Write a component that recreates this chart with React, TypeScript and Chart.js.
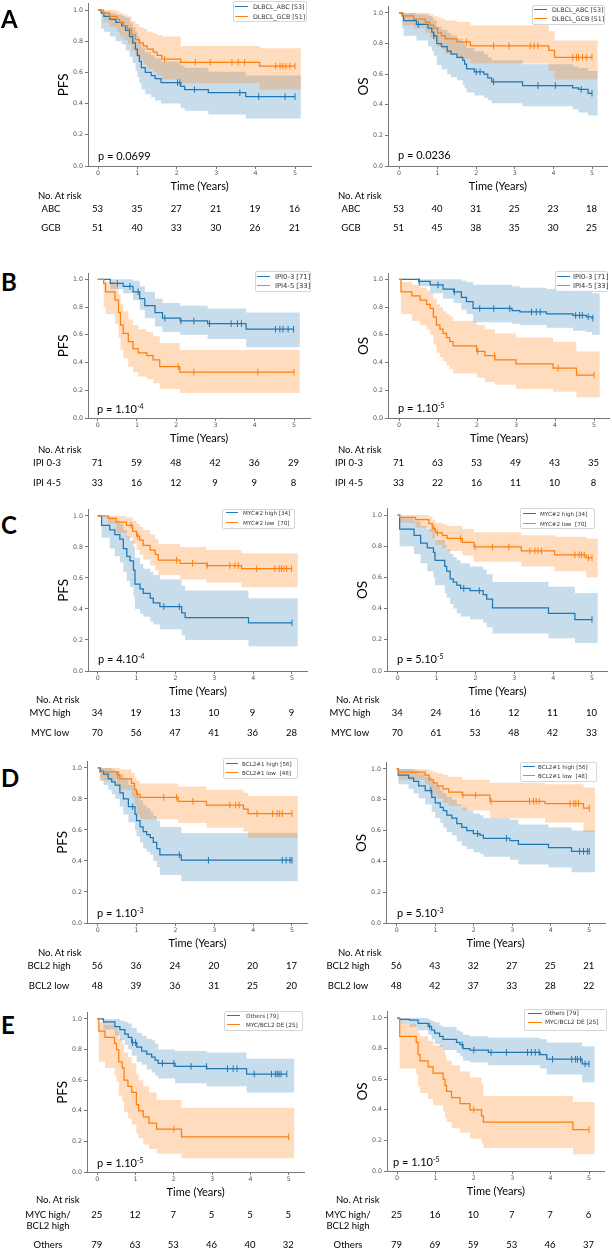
import React, { useEffect, useRef } from "react";
import { Chart, registerables } from "chart.js";

Chart.register(...registerables);

// ---------------- axis constants ----------------
const TIME_TICKS = [0, 1, 2, 3, 4, 5];
const SURV_TICKS = [0, 0.2, 0.4, 0.6, 0.8, 1.0];
const BAND_END = 5.15;
const X_MAX = 5.41;
const Y_MAX = 1.04;

// ---------------- A: cell of origin ----------------
const aPfsAbcT = [0, 0.08, 0.15, 0.3, 0.45, 0.6, 0.7, 0.8, 0.88, 0.95, 1.0, 1.05, 1.1, 1.2, 1.35, 1.45, 1.6, 2.1, 2.2, 2.8, 3.75];
const aPfsAbcS = [1, 0.98, 0.96, 0.94, 0.92, 0.9, 0.87, 0.83, 0.79, 0.75, 0.71, 0.67, 0.63, 0.6, 0.58, 0.56, 0.535, 0.51, 0.49, 0.47, 0.445];
const aPfsAbcLo = [1, 0.88, 0.86, 0.83, 0.8, 0.78, 0.74, 0.7, 0.66, 0.61, 0.57, 0.53, 0.49, 0.46, 0.44, 0.42, 0.4, 0.37, 0.355, 0.33, 0.305];
const aPfsAbcHi = [1, 1, 0.99, 0.98, 0.97, 0.96, 0.95, 0.92, 0.89, 0.86, 0.83, 0.8, 0.76, 0.73, 0.71, 0.69, 0.67, 0.645, 0.63, 0.605, 0.58];
const aPfsAbcCens = [2.02, 2.08, 2.45, 3.6, 4.08, 4.75, 5.0];

const aPfsGcbT = [0, 0.14, 0.3, 0.48, 0.55, 0.65, 0.75, 0.85, 0.95, 1.05, 1.15, 1.25, 1.4, 1.5, 1.62, 2.1, 4.1];
const aPfsGcbS = [1, 0.98, 0.96, 0.94, 0.92, 0.9, 0.88, 0.84, 0.81, 0.79, 0.77, 0.75, 0.73, 0.71, 0.685, 0.665, 0.64];
const aPfsGcbLo = [1, 0.92, 0.89, 0.86, 0.83, 0.81, 0.78, 0.74, 0.7, 0.68, 0.65, 0.62, 0.6, 0.58, 0.555, 0.53, 0.49];
const aPfsGcbHi = [1, 1, 1, 0.99, 0.98, 0.97, 0.96, 0.93, 0.91, 0.89, 0.88, 0.86, 0.85, 0.84, 0.83, 0.77, 0.755];
const aPfsGcbCens = [1.69, 2.47, 2.85, 3.4, 3.56, 3.72, 4.51, 4.62, 4.69, 4.77, 4.87, 5.0];

const aOsAbcT = [0, 0.08, 0.12, 0.45, 0.75, 0.85, 0.9, 0.98, 1.1, 1.25, 1.35, 1.5, 1.65, 1.7, 1.75, 1.95, 2.2, 2.3, 2.4, 3.2, 4.5, 4.65, 4.9];
const aOsAbcS = [1, 0.98, 0.95, 0.925, 0.9, 0.875, 0.85, 0.8, 0.78, 0.75, 0.73, 0.71, 0.69, 0.665, 0.635, 0.615, 0.6, 0.575, 0.55, 0.525, 0.51, 0.5, 0.475];
const aOsAbcLo = [1, 0.9, 0.85, 0.82, 0.78, 0.75, 0.72, 0.66, 0.63, 0.6, 0.58, 0.56, 0.53, 0.51, 0.48, 0.46, 0.445, 0.43, 0.41, 0.39, 0.37, 0.35, 0.33];
const aOsAbcHi = [1, 1, 1, 0.99, 0.98, 0.97, 0.95, 0.91, 0.89, 0.87, 0.85, 0.83, 0.81, 0.79, 0.77, 0.75, 0.73, 0.71, 0.69, 0.665, 0.65, 0.64, 0.62];
const aOsAbcCens = [0.5, 0.9, 2.0, 2.1, 2.45, 3.6, 4.05, 4.72, 5.0];

const aOsGcbT = [0, 0.1, 0.38, 0.68, 0.8, 0.9, 1.0, 1.1, 1.2, 1.5, 1.85, 3.88, 4.03];
const aOsGcbS = [1, 0.98, 0.96, 0.94, 0.92, 0.9, 0.87, 0.85, 0.83, 0.81, 0.785, 0.755, 0.71];
const aOsGcbLo = [1, 0.92, 0.9, 0.87, 0.84, 0.82, 0.78, 0.76, 0.73, 0.7, 0.67, 0.62, 0.565];
const aOsGcbHi = [1, 1, 1, 1, 0.99, 0.98, 0.97, 0.96, 0.95, 0.94, 0.92, 0.88, 0.82];
const aOsGcbCens = [1.75, 2.45, 2.85, 3.4, 3.5, 3.6, 4.5, 4.6, 4.65, 4.75, 4.85, 5.0];

// ---------------- B: IPI ----------------
const bPfsLowT = [0, 0.32, 0.65, 0.9, 1.07, 1.2, 1.46, 1.65, 2.1, 2.8, 3.78];
const bPfsLowS = [1, 0.97, 0.95, 0.91, 0.86, 0.81, 0.76, 0.72, 0.7, 0.68, 0.64];
const bPfsLowLo = [1, 0.93, 0.9, 0.85, 0.78, 0.72, 0.66, 0.62, 0.6, 0.57, 0.51];
const bPfsLowHi = [1, 1, 1, 0.99, 0.95, 0.91, 0.86, 0.83, 0.81, 0.79, 0.76];
const bPfsLowCens = [0.5, 0.82, 1.03, 1.71, 2.12, 2.45, 2.85, 3.4, 3.56, 3.66, 4.53, 4.64, 4.72, 4.85, 4.99];

const bPfsHighT = [0, 0.15, 0.2, 0.44, 0.53, 0.58, 0.65, 0.78, 0.9, 1.03, 1.25, 1.41, 1.58, 2.09];
const bPfsHighS = [1, 0.97, 0.91, 0.85, 0.76, 0.67, 0.61, 0.55, 0.5, 0.47, 0.45, 0.42, 0.37, 0.33];
const bPfsHighLo = [1, 0.8, 0.75, 0.68, 0.58, 0.49, 0.43, 0.37, 0.33, 0.3, 0.28, 0.25, 0.21, 0.18];
const bPfsHighHi = [1, 1, 0.98, 0.95, 0.89, 0.82, 0.77, 0.71, 0.67, 0.64, 0.62, 0.59, 0.54, 0.49];
const bPfsHighCens = [2.05, 2.45, 4.08, 5.0];

const bOsLowT = [0, 0.5, 0.8, 1.13, 1.4, 1.6, 1.73, 1.9, 2.9, 3.1, 3.78, 4.46, 4.8, 4.95];
const bOsLowS = [1, 0.985, 0.96, 0.93, 0.91, 0.87, 0.84, 0.79, 0.775, 0.765, 0.75, 0.74, 0.73, 0.72];
const bOsLowLo = [1, 0.95, 0.9, 0.86, 0.83, 0.78, 0.75, 0.69, 0.68, 0.67, 0.65, 0.63, 0.62, 0.6];
const bOsLowHi = [1, 1, 1, 1, 1, 0.99, 0.98, 0.96, 0.95, 0.94, 0.93, 0.92, 0.91, 0.9];
const bOsLowCens = [0.52, 1.0, 1.42, 2.07, 2.43, 2.84, 3.4, 3.52, 3.62, 4.53, 4.63, 4.7, 4.85, 4.97];

const bOsHighT = [0, 0.05, 0.33, 0.54, 0.71, 0.8, 0.88, 0.96, 1.05, 1.13, 1.22, 1.3, 1.39, 1.99, 2.2, 2.46, 3.0, 3.95, 4.55];
const bOsHighS = [1, 0.91, 0.88, 0.85, 0.82, 0.79, 0.73, 0.67, 0.64, 0.61, 0.58, 0.55, 0.52, 0.48, 0.45, 0.42, 0.39, 0.36, 0.31];
const bOsHighLo = [1, 0.75, 0.7, 0.67, 0.64, 0.6, 0.53, 0.47, 0.44, 0.41, 0.38, 0.35, 0.32, 0.29, 0.26, 0.24, 0.21, 0.19, 0.15];
const bOsHighHi = [1, 0.98, 0.96, 0.94, 0.92, 0.9, 0.86, 0.82, 0.8, 0.77, 0.75, 0.73, 0.7, 0.67, 0.64, 0.61, 0.58, 0.55, 0.48];
const bOsHighCens = [2.02, 2.45, 4.08, 5.0];

// ---------------- C: MYC ----------------
const cPfsHighT = [0, 0.1, 0.31, 0.44, 0.57, 0.66, 0.75, 0.83, 0.92, 0.96, 1.09, 1.17, 1.35, 1.43, 1.6, 2.16, 2.25, 3.88];
const cPfsHighS = [1, 0.94, 0.91, 0.88, 0.85, 0.79, 0.74, 0.71, 0.65, 0.56, 0.53, 0.5, 0.47, 0.44, 0.415, 0.375, 0.345, 0.31];
const cPfsHighLo = [1, 0.86, 0.79, 0.74, 0.7, 0.64, 0.58, 0.54, 0.48, 0.4, 0.37, 0.35, 0.32, 0.3, 0.27, 0.23, 0.2, 0.16];
const cPfsHighHi = [1, 1, 0.99, 0.97, 0.95, 0.91, 0.87, 0.84, 0.8, 0.73, 0.69, 0.66, 0.64, 0.62, 0.59, 0.55, 0.52, 0.47];
const cPfsHighCens = [1.7, 2.1, 5.0];

const cPfsLowT = [0, 0.27, 0.48, 0.74, 0.9, 1.0, 1.08, 1.17, 1.35, 1.48, 1.56, 2.12, 2.8, 3.7];
const cPfsLowS = [1, 0.985, 0.96, 0.94, 0.9, 0.87, 0.845, 0.81, 0.78, 0.75, 0.715, 0.695, 0.68, 0.66];
const cPfsLowLo = [1, 0.95, 0.89, 0.86, 0.82, 0.78, 0.75, 0.72, 0.68, 0.65, 0.62, 0.59, 0.57, 0.54];
const cPfsLowHi = [1, 1, 1, 0.99, 0.97, 0.95, 0.93, 0.91, 0.88, 0.85, 0.82, 0.8, 0.78, 0.76];
const cPfsLowCens = [0.86, 1.03, 2.03, 2.44, 2.82, 3.4, 3.53, 3.62, 4.09, 4.56, 4.67, 4.73, 4.79, 4.86, 4.99];

const cOsHighT = [0, 0.05, 0.42, 0.59, 0.76, 0.92, 0.96, 1.21, 1.26, 1.35, 1.43, 1.52, 1.62, 1.86, 2.2, 2.29, 2.44, 3.88, 4.56];
const cOsHighS = [1, 0.91, 0.87, 0.82, 0.79, 0.76, 0.71, 0.67, 0.64, 0.59, 0.57, 0.55, 0.53, 0.515, 0.49, 0.46, 0.405, 0.37, 0.33];
const cOsHighLo = [1, 0.8, 0.75, 0.69, 0.64, 0.6, 0.55, 0.5, 0.47, 0.43, 0.4, 0.37, 0.35, 0.33, 0.31, 0.28, 0.24, 0.21, 0.18];
const cOsHighHi = [1, 0.98, 0.96, 0.93, 0.91, 0.88, 0.84, 0.81, 0.78, 0.75, 0.73, 0.71, 0.69, 0.67, 0.65, 0.62, 0.57, 0.54, 0.5];
const cOsHighCens = [1.7, 2.1, 5.0];

const cOsLowT = [0, 0.05, 0.46, 0.8, 0.89, 0.97, 1.15, 1.27, 1.66, 1.96, 3.18, 4.04, 4.85];
const cOsLowS = [1, 0.985, 0.97, 0.945, 0.915, 0.885, 0.87, 0.85, 0.825, 0.795, 0.77, 0.745, 0.725];
const cOsLowLo = [1, 0.95, 0.92, 0.89, 0.85, 0.81, 0.79, 0.77, 0.74, 0.7, 0.67, 0.64, 0.6];
const cOsLowHi = [1, 1, 1, 0.99, 0.97, 0.95, 0.94, 0.93, 0.91, 0.89, 0.87, 0.86, 0.85];
const cOsLowCens = [0.93, 1.02, 1.62, 1.99, 2.44, 2.86, 3.4, 3.53, 3.61, 3.7, 4.56, 4.67, 4.73, 4.8, 4.91, 5.0];

// ---------------- D: BCL2 ----------------
const dPfsHighT = [0, 0.07, 0.15, 0.27, 0.36, 0.45, 0.57, 0.66, 0.79, 0.96, 1.0, 1.09, 1.17, 1.26, 1.35, 1.43, 1.52, 1.6, 2.15];
const dPfsHighS = [1, 0.98, 0.96, 0.93, 0.91, 0.89, 0.84, 0.8, 0.75, 0.7, 0.66, 0.62, 0.59, 0.57, 0.55, 0.52, 0.48, 0.44, 0.405];
const dPfsHighLo = [1, 0.92, 0.89, 0.86, 0.83, 0.8, 0.75, 0.7, 0.65, 0.6, 0.56, 0.52, 0.48, 0.46, 0.44, 0.4, 0.36, 0.31, 0.27];
const dPfsHighHi = [1, 1, 1, 1, 0.99, 0.98, 0.96, 0.93, 0.89, 0.86, 0.82, 0.79, 0.76, 0.74, 0.72, 0.69, 0.66, 0.62, 0.58];
const dPfsHighCens = [0.9, 2.1, 2.85, 4.75, 4.85, 4.95, 5.0];

const dPfsLowT = [0, 0.05, 0.5, 0.57, 0.87, 0.95, 1.0, 1.09, 2.07, 2.8, 3.75, 3.87];
const dPfsLowS = [1, 0.975, 0.955, 0.93, 0.9, 0.86, 0.83, 0.81, 0.785, 0.76, 0.735, 0.705];
const dPfsLowLo = [1, 0.92, 0.89, 0.86, 0.81, 0.76, 0.7, 0.67, 0.645, 0.615, 0.59, 0.55];
const dPfsLowHi = [1, 1, 1, 0.99, 0.97, 0.94, 0.92, 0.9, 0.88, 0.86, 0.84, 0.82];
const dPfsLowCens = [0.52, 1.02, 1.7, 2.03, 2.45, 3.4, 3.55, 3.64, 4.1, 4.5, 4.62, 4.68, 4.75, 5.0];

const dOsHighT = [0, 0.04, 0.31, 0.44, 0.57, 0.74, 0.91, 1.0, 1.13, 1.21, 1.3, 1.43, 1.56, 1.69, 1.82, 1.99, 2.16, 2.25, 2.94, 3.16, 3.94, 4.54];
const dOsHighS = [1, 0.96, 0.94, 0.92, 0.89, 0.86, 0.815, 0.78, 0.75, 0.73, 0.7, 0.68, 0.645, 0.62, 0.6, 0.58, 0.57, 0.55, 0.535, 0.51, 0.49, 0.465];
const dOsHighLo = [1, 0.9, 0.87, 0.84, 0.81, 0.77, 0.72, 0.68, 0.65, 0.62, 0.59, 0.57, 0.53, 0.5, 0.48, 0.46, 0.45, 0.43, 0.41, 0.38, 0.36, 0.33];
const dOsHighHi = [1, 1, 1, 0.99, 0.97, 0.95, 0.92, 0.89, 0.86, 0.84, 0.82, 0.8, 0.77, 0.75, 0.73, 0.71, 0.7, 0.68, 0.67, 0.64, 0.62, 0.6];
const dOsHighCens = [0.89, 2.1, 2.85, 4.75, 4.85, 4.95, 5.0];

const dOsLowT = [0, 0.05, 0.74, 0.84, 0.95, 1.05, 1.2, 1.35, 1.7, 2.42, 3.85, 4.85];
const dOsLowS = [1, 0.98, 0.96, 0.93, 0.91, 0.89, 0.87, 0.85, 0.83, 0.79, 0.775, 0.745];
const dOsLowLo = [1, 0.93, 0.9, 0.86, 0.83, 0.81, 0.78, 0.76, 0.73, 0.68, 0.65, 0.59];
const dOsLowHi = [1, 1, 1, 0.99, 0.98, 0.97, 0.96, 0.95, 0.93, 0.91, 0.9, 0.88];
const dOsLowCens = [1.72, 2.05, 2.45, 3.45, 3.55, 3.62, 3.7, 4.5, 4.6, 4.65, 4.72, 5.0];

// ---------------- E: double expressor ----------------
const ePfsOthT = [0, 0.16, 0.46, 0.59, 0.72, 0.81, 0.9, 1.03, 1.16, 1.29, 1.42, 1.51, 1.59, 2.03, 2.86, 3.9];
const ePfsOthS = [1, 0.98, 0.95, 0.93, 0.9, 0.88, 0.845, 0.815, 0.79, 0.77, 0.75, 0.73, 0.71, 0.69, 0.675, 0.64];
const ePfsOthLo = [1, 0.93, 0.89, 0.86, 0.83, 0.8, 0.76, 0.72, 0.7, 0.67, 0.65, 0.63, 0.61, 0.58, 0.56, 0.52];
const ePfsOthHi = [1, 1, 1, 0.99, 0.98, 0.97, 0.94, 0.91, 0.89, 0.87, 0.86, 0.84, 0.8, 0.79, 0.78, 0.74];
const ePfsOthCens = [0.92, 1.0, 1.7, 2.0, 2.45, 2.85, 3.4, 3.55, 3.65, 4.1, 4.55, 4.65, 4.7, 4.75, 4.8, 4.95];

const ePfsDeT = [0, 0.04, 0.2, 0.45, 0.5, 0.56, 0.65, 0.7, 0.8, 0.9, 1.02, 1.08, 1.2, 1.35, 1.55, 2.2];
const ePfsDeS = [1, 0.92, 0.88, 0.84, 0.8, 0.72, 0.68, 0.6, 0.56, 0.52, 0.44, 0.4, 0.36, 0.32, 0.28, 0.23];
const ePfsDeLo = [1, 0.72, 0.68, 0.63, 0.59, 0.5, 0.46, 0.39, 0.35, 0.31, 0.25, 0.22, 0.18, 0.15, 0.12, 0.09];
const ePfsDeHi = [1, 0.98, 0.96, 0.94, 0.92, 0.87, 0.84, 0.78, 0.75, 0.71, 0.64, 0.6, 0.56, 0.52, 0.47, 0.42];
const ePfsDeCens = [2.0, 5.0];

const eOsOthT = [0, 0.06, 0.33, 0.55, 0.81, 0.9, 0.98, 1.11, 1.2, 1.55, 1.64, 1.72, 1.9, 2.38, 3.73, 3.9, 4.82];
const eOsOthS = [1, 0.99, 0.985, 0.965, 0.945, 0.92, 0.9, 0.88, 0.86, 0.84, 0.825, 0.8, 0.79, 0.775, 0.76, 0.73, 0.7];
const eOsOthLo = [1, 0.96, 0.94, 0.92, 0.89, 0.86, 0.83, 0.81, 0.79, 0.77, 0.75, 0.72, 0.71, 0.69, 0.67, 0.63, 0.58];
const eOsOthHi = [1, 1, 1, 1, 0.99, 0.98, 0.97, 0.95, 0.94, 0.92, 0.91, 0.89, 0.88, 0.87, 0.86, 0.84, 0.815];
const eOsOthCens = [0.85, 1.7, 2.0, 2.45, 2.85, 3.4, 3.5, 3.6, 3.7, 4.05, 4.55, 4.65, 4.7, 4.78, 4.9, 5.0];

const eOsDeT = [0, 0.07, 0.5, 0.55, 0.6, 0.81, 0.94, 1.2, 1.25, 1.29, 1.42, 1.64, 1.9, 2.2, 2.25, 4.58];
const eOsDeS = [1, 0.88, 0.84, 0.76, 0.72, 0.68, 0.64, 0.6, 0.56, 0.52, 0.48, 0.44, 0.4, 0.36, 0.32, 0.27];
const eOsDeLo = [1, 0.67, 0.63, 0.55, 0.51, 0.47, 0.43, 0.39, 0.35, 0.32, 0.28, 0.25, 0.21, 0.18, 0.15, 0.11];
const eOsDeHi = [1, 0.96, 0.94, 0.9, 0.88, 0.85, 0.82, 0.79, 0.76, 0.72, 0.69, 0.65, 0.61, 0.57, 0.49, 0.45];
const eOsDeCens = [2.0, 5.0];

// ---------------- number at risk ----------------
const riskAPfsAbc = [53, 35, 27, 21, 19, 16];
const riskAPfsGcb = [51, 40, 33, 30, 26, 21];
const riskAOsAbc = [53, 40, 31, 25, 23, 18];
const riskAOsGcb = [51, 45, 38, 35, 30, 25];
const riskBPfsLow = [71, 59, 48, 42, 36, 29];
const riskBPfsHigh = [33, 16, 12, 9, 9, 8];
const riskBOsLow = [71, 63, 53, 49, 43, 35];
const riskBOsHigh = [33, 22, 16, 11, 10, 8];
const riskCPfsHigh = [34, 19, 13, 10, 9, 9];
const riskCPfsLow = [70, 56, 47, 41, 36, 28];
const riskCOsHigh = [34, 24, 16, 12, 11, 10];
const riskCOsLow = [70, 61, 53, 48, 42, 33];
const riskDPfsHigh = [56, 36, 24, 20, 20, 17];
const riskDPfsLow = [48, 39, 36, 31, 25, 20];
const riskDOsHigh = [56, 43, 32, 27, 25, 21];
const riskDOsLow = [48, 42, 37, 33, 28, 22];
const riskEPfsDe = [25, 12, 7, 5, 5, 5];
const riskEPfsOth = [79, 63, 53, 46, 40, 32];
const riskEOsDe = [25, 16, 10, 7, 7, 6];
const riskEOsOth = [79, 69, 59, 53, 46, 37];

// ---------------- labels ----------------
const legendA = ["DLBCL_ABC [53]", "DLBCL_GCB [51]"];
const legendB = ["IPI0-3 [71]", "IPI4-5 [33]"];
const legendC = ["MYC#2 high [34]", "MYC#2 low  [70]"];
const legendD = ["BCL2#1 high [56]", "BCL2#1 low  [48]"];
const legendE = ["Others [79]", "MYC/BCL2 DE [25]"];
const rowsA = ["ABC", "GCB"];
const rowsB = ["IPI 0-3", "IPI 4-5"];
const rowsC = ["MYC high", "MYC low"];
const rowsD = ["BCL2 high", "BCL2 low"];
const rowsE = ["MYC high/\nBCL2 high", "Others"];
const pValues = [
  ["p = 0.0699", ""], ["p = 0.0236", ""],
  ["p = 1.10", "-4"], ["p = 1.10", "-5"],
  ["p = 4.10", "-4"], ["p = 5.10", "-5"],
  ["p = 1.10", "-3"], ["p = 5.10", "-3"],
  ["p = 1.10", "-5"], ["p = 1.10", "-5"],
];
const panelLetters = ["A", "B", "C", "D", "E"];

// ---------------- layout (page pixels) ----------------
// [yAxisX, x(t=0), x(t=5), y(S=1), y(S=0)]
const GEO = [
  [88, 98, 295, 7.3, 166], [388, 399, 592, 10, 166],
  [88, 97.7, 294, 276, 418.3], [388, 399, 594, 276.5, 418.3],
  [88, 97.7, 292, 512.5, 671], [387, 397.7, 592, 512.3, 671],
  [87, 97.7, 292, 765, 923.3], [386, 396.7, 589.3, 765.8, 923.3],
  [87, 97.3, 288.7, 1015.7, 1172.3], [387, 397, 589, 1014.3, 1171],
];
// [x, y, w, h, row1Y, row2Y, swatchL, swatchR, textX, fontSize]
const LEG_GEO = [
  [233, 1, 74, 21, 7, 17, 235, 248, 253, 6.3], [532, 5, 73, 20, 10, 19, 534, 547, 552, 6.3],
  [255, 271, 56, 21, 277, 286, 257, 270, 275, 6.8], [555, 271, 53, 21, 277, 286, 557, 570, 573, 6.8],
  [222, 509, 73, 20, 513, 523, 226, 238, 243, 5.6], [520, 508, 75, 21, 514, 524, 523, 536, 540, 5.6],
  [223, 758, 75, 21, 764, 773, 226, 238, 242, 5.6], [520, 762, 77, 20, 767, 776, 523, 535, 538, 5.6],
  [224, 1011, 79, 20, 1016, 1025, 227, 240, 246, 5.7], [524, 1009, 83, 22, 1014, 1023, 528, 542, 545, 5.9],
];
// [x, centerY]
const P_GEO = [
  [98, 156], [398, 155], [97, 409], [398, 408], [98, 659],
  [397, 659], [97, 913], [397, 913], [97, 1163], [393, 1162],
];
// [headX, headY, labelCenterX, row1Y, row2Y]
const RISK_GEO = [
  [38, 196, 51, 209, 228], [338, 196, 351, 209, 228],
  [38, 450, 47, 463, 483], [338, 450, 349, 463, 483],
  [36, 700, 50, 713, 733], [336, 700, 350, 713, 733],
  [38, 953, 49, 966, 986], [338, 953, 348, 966, 986],
  [36, 1200, 48, 1215, 1245], [336, 1200, 348, 1215, 1245],
];
const LETTER_Y = [19.5, 282, 525, 778, 1025.5];

const BLUE = "#1f77b4";
const ORANGE = "#ff7f0e";
const BLUE_BAND = "rgba(31,119,180,0.25)";
const ORANGE_BAND = "rgba(255,127,14,0.27)";
const TEXT_FONT = "Lato, 'Open Sans', sans-serif";
const SMALL_FONT = "'DejaVu Sans', sans-serif";

type Curve = { t: number[]; s: number[]; lo: number[]; hi: number[]; cens: number[] };
const mk = (t: number[], s: number[], lo: number[], hi: number[], cens: number[]): Curve => ({ t, s, lo, hi, cens });

const PANELS = [
  { yTitle: "PFS", blue: mk(aPfsAbcT, aPfsAbcS, aPfsAbcLo, aPfsAbcHi, aPfsAbcCens), orange: mk(aPfsGcbT, aPfsGcbS, aPfsGcbLo, aPfsGcbHi, aPfsGcbCens), legend: legendA, rows: rowsA, risk: [riskAPfsAbc, riskAPfsGcb] },
  { yTitle: "OS", blue: mk(aOsAbcT, aOsAbcS, aOsAbcLo, aOsAbcHi, aOsAbcCens), orange: mk(aOsGcbT, aOsGcbS, aOsGcbLo, aOsGcbHi, aOsGcbCens), legend: legendA, rows: rowsA, risk: [riskAOsAbc, riskAOsGcb] },
  { yTitle: "PFS", blue: mk(bPfsLowT, bPfsLowS, bPfsLowLo, bPfsLowHi, bPfsLowCens), orange: mk(bPfsHighT, bPfsHighS, bPfsHighLo, bPfsHighHi, bPfsHighCens), legend: legendB, rows: rowsB, risk: [riskBPfsLow, riskBPfsHigh] },
  { yTitle: "OS", blue: mk(bOsLowT, bOsLowS, bOsLowLo, bOsLowHi, bOsLowCens), orange: mk(bOsHighT, bOsHighS, bOsHighLo, bOsHighHi, bOsHighCens), legend: legendB, rows: rowsB, risk: [riskBOsLow, riskBOsHigh] },
  { yTitle: "PFS", blue: mk(cPfsHighT, cPfsHighS, cPfsHighLo, cPfsHighHi, cPfsHighCens), orange: mk(cPfsLowT, cPfsLowS, cPfsLowLo, cPfsLowHi, cPfsLowCens), legend: legendC, rows: rowsC, risk: [riskCPfsHigh, riskCPfsLow] },
  { yTitle: "OS", blue: mk(cOsHighT, cOsHighS, cOsHighLo, cOsHighHi, cOsHighCens), orange: mk(cOsLowT, cOsLowS, cOsLowLo, cOsLowHi, cOsLowCens), legend: legendC, rows: rowsC, risk: [riskCOsHigh, riskCOsLow] },
  { yTitle: "PFS", blue: mk(dPfsHighT, dPfsHighS, dPfsHighLo, dPfsHighHi, dPfsHighCens), orange: mk(dPfsLowT, dPfsLowS, dPfsLowLo, dPfsLowHi, dPfsLowCens), legend: legendD, rows: rowsD, risk: [riskDPfsHigh, riskDPfsLow] },
  { yTitle: "OS", blue: mk(dOsHighT, dOsHighS, dOsHighLo, dOsHighHi, dOsHighCens), orange: mk(dOsLowT, dOsLowS, dOsLowLo, dOsLowHi, dOsLowCens), legend: legendD, rows: rowsD, risk: [riskDOsHigh, riskDOsLow] },
  { yTitle: "PFS", blue: mk(ePfsOthT, ePfsOthS, ePfsOthLo, ePfsOthHi, ePfsOthCens), orange: mk(ePfsDeT, ePfsDeS, ePfsDeLo, ePfsDeHi, ePfsDeCens), legend: legendE, rows: rowsE, risk: [riskEPfsDe, riskEPfsOth] },
  { yTitle: "OS", blue: mk(eOsOthT, eOsOthS, eOsOthLo, eOsOthHi, eOsOthCens), orange: mk(eOsDeT, eOsDeS, eOsDeLo, eOsDeHi, eOsDeCens), legend: legendE, rows: rowsE, risk: [riskEOsDe, riskEOsOth] },
];

const Y_AXIS_W = 32;
const X_AXIS_H = 27;

function geom(g: number[]) {
  const [axisXr, x0, x5, y1, y0r] = g;
  const axisX = Math.round(axisXr);
  const y0 = Math.round(y0r);
  const ppy = (x5 - x0) / 5;
  const ppu = y0r - y1;
  const xmin = -(x0 - axisX) / ppy;
  const chartRight = x0 + X_MAX * ppy;
  const chartTop = y0 - Y_MAX * ppu;
  const cl = axisX - Y_AXIS_W;
  const ct = Math.floor(chartTop) - 2;
  const cw = Math.ceil(chartRight) + 3 - cl;
  const ch = y0 + X_AXIS_H - ct;
  return { cl, ct, cw, ch, padTop: chartTop - ct, padRight: cl + cw - chartRight, xmin, x0, ppy };
}

function stepValue(x: number, ts: number[], ss: number[]) {
  let v = ss[0];
  for (let i = 0; i < ts.length; i++) if (ts[i] <= x) v = ss[i];
  return v;
}

function kmSets(c: Curve, color: string, band: string) {
  const n = c.t.length - 1;
  const lastCens = c.cens.length ? c.cens[c.cens.length - 1] : c.t[n];
  const curveEnd = Math.max(lastCens, c.t[n]);
  const pts = (vals: number[], end: number) =>
    c.t.map((t, i) => ({ x: t, y: vals[i] })).concat([{ x: end, y: vals[n] }]);
  return {
    cens: {
      type: "scatter", data: c.cens.map((t) => ({ x: t, y: stepValue(t, c.t, c.s) })),
      pointStyle: "line", pointRotation: 90, pointRadius: 3.3, pointBorderWidth: 1,
      pointBorderColor: color, borderColor: color, backgroundColor: color, showLine: false,
    },
    line: {
      type: "line", data: pts(c.s, curveEnd), stepped: true, borderColor: color,
      borderWidth: 1.25, pointRadius: 0, fill: false,
    },
    hi: {
      type: "line", data: pts(c.hi, BAND_END), stepped: true, borderWidth: 0,
      borderColor: "rgba(0,0,0,0)", pointRadius: 0, fill: "+1", backgroundColor: band,
    },
    lo: {
      type: "line", data: pts(c.lo, BAND_END), stepped: true, borderWidth: 0,
      borderColor: "rgba(0,0,0,0)", pointRadius: 0, fill: false,
    },
  };
}

function Txt(props: { x: number; cy: number; fs: number; text: string; align?: "left" | "center"; family?: string; color?: string; weight?: number | string; children?: any }) {
  const { x, cy, fs, text, align = "left", family = TEXT_FONT, color = "#000", weight = 400 } = props;
  return (
    <div
      style={{
        position: "absolute", left: x, top: cy - fs * 0.6, height: fs * 1.2, lineHeight: `${fs * 1.2}px`,
        fontSize: fs, fontFamily: family, color, fontWeight: weight as any, whiteSpace: "pre",
        transform: align === "center" ? "translateX(-50%)" : undefined,
      }}
    >
      {text}
      {props.children}
    </div>
  );
}

function KMPanel({ idx }: { idx: number }) {
  const p = PANELS[idx];
  const g = geom(GEO[idx]);
  const ref = useRef<HTMLCanvasElement>(null);

  useEffect(() => {
    const b = kmSets(p.blue, BLUE, BLUE_BAND);
    const o = kmSets(p.orange, ORANGE, ORANGE_BAND);
    const tickFont = { family: SMALL_FONT, size: 6.3 };
    const chart = new Chart(ref.current as HTMLCanvasElement, {
      type: "line",
      data: { datasets: [o.cens, b.cens, o.line, b.line, o.hi, o.lo, b.hi, b.lo] as any },
      options: {
        animation: false,
        responsive: false,
        maintainAspectRatio: false,
        devicePixelRatio: 1,
        layout: { autoPadding: false, padding: { top: g.padTop, right: g.padRight, left: 0, bottom: 0 } },
        plugins: { legend: { display: false }, tooltip: { enabled: false } },
        scales: {
          x: {
            type: "linear", min: g.xmin, max: X_MAX,
            afterBuildTicks: (s: any) => { s.ticks = TIME_TICKS.map((v) => ({ value: v })); },
            afterFit: (s: any) => { s.height = X_AXIS_H; },
            ticks: { font: tickFont, color: "#555", padding: 1, maxRotation: 0, autoSkip: false, callback: (v: any) => String(v) },
            grid: { display: true, drawOnChartArea: false, drawTicks: true, tickLength: 3, color: "#777" },
            border: { display: true, color: "#777", width: 1 },
            title: { display: true, text: "Time (Years)", font: { family: "Lato", size: 11 }, color: "#000", padding: 0 },
          },
          y: {
            type: "linear", min: 0, max: Y_MAX,
            afterBuildTicks: (s: any) => { s.ticks = SURV_TICKS.map((v) => ({ value: v })); },
            afterFit: (s: any) => { s.width = Y_AXIS_W; },
            ticks: { font: tickFont, color: "#555", padding: 2, callback: (v: any) => Number(v).toFixed(1) },
            grid: { display: true, drawOnChartArea: false, drawTicks: true, tickLength: 3, color: "#777" },
            border: { display: true, color: "#777", width: 1 },
            title: { display: true, text: p.yTitle, font: { family: "Lato", size: 13.5 }, color: "#000", padding: 0 },
          },
        },
      } as any,
    });
    return () => chart.destroy();
  }, []);

  const L = LEG_GEO[idx];
  const P = P_GEO[idx];
  const R = RISK_GEO[idx];
  const numX = (k: number) => g.x0 + k * g.ppy - 0.5;
  const rowY = [R[3], R[4]];

  return (
    <>
      <canvas
        ref={ref}
        width={g.cw}
        height={g.ch}
        style={{ position: "absolute", left: g.cl, top: g.ct, width: g.cw, height: g.ch }}
      />
      {/* legend */}
      <div
        style={{
          position: "absolute", left: L[0], top: L[1], width: L[2], height: L[3],
          border: "1px solid #d6d6d6", borderRadius: 2, background: "rgba(255,255,255,0.85)", boxSizing: "border-box",
        }}
      />
      {[BLUE, ORANGE].map((c, i) => (
        <div key={"sw" + i} style={{ position: "absolute", left: L[6], top: Math.round(L[4 + i]) - 1, width: L[7] - L[6], height: 0, borderTop: `1.5px solid ${c}` }} />
      ))}
      {p.legend.map((t, i) => (
        <Txt key={"lg" + i} x={L[8]} cy={L[4 + i]} fs={L[9]} text={t} family={SMALL_FONT} color="#333" />
      ))}
      {/* p value */}
      <Txt x={P[0]} cy={P[1]} fs={11} text={pValues[idx][0]}>
        {pValues[idx][1] ? (
          <span style={{ fontSize: 7, position: "relative", top: -4 }}>{pValues[idx][1]}</span>
        ) : null}
      </Txt>
      {/* at-risk table */}
      <Txt x={R[0]} cy={R[1]} fs={9.5} text="No. At risk" />
      {p.rows.map((label, i) =>
        label.split("\n").map((ln, j) => (
          <Txt key={"rl" + i + "-" + j} x={R[2]} cy={rowY[i] + j * 11} fs={9.5} text={ln} align="center" />
        ))
      )}
      {p.risk.map((vals, i) =>
        vals.map((v, k) => (
          <Txt key={"rv" + i + "-" + k} x={numX(k)} cy={rowY[i]} fs={9.5} text={String(v)} align="center" />
        ))
      )}
    </>
  );
}

export default function App() {
  return (
    <div style={{ position: "absolute", left: 0, top: 0, width: 612, height: 1248, background: "#fff", overflow: "hidden" }}>
      {PANELS.map((_, i) => (
        <KMPanel key={i} idx={i} />
      ))}
      {panelLetters.map((l, i) => (
        <Txt key={l} x={1} cy={LETTER_Y[i]} fs={24} text={l} weight={700} />
      ))}
    </div>
  );
}
